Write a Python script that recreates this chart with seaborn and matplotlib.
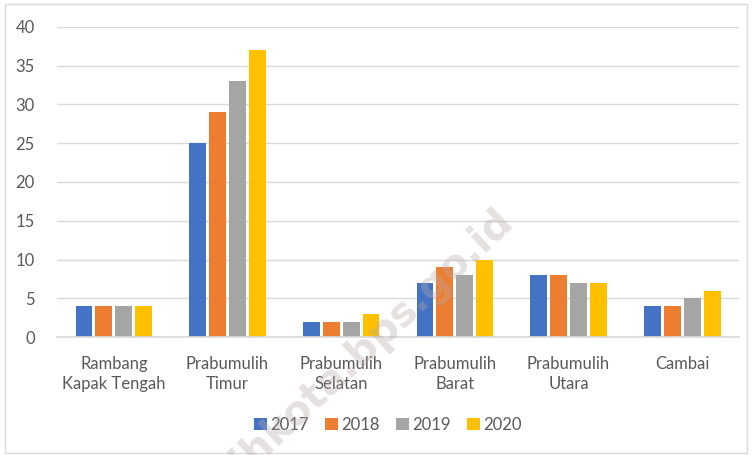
import matplotlib
matplotlib.use("Agg")
import matplotlib.pyplot as plt
import seaborn as sns
import pandas as pd

categories = ["Rambang\nKapak Tengah", "Prabumulih\nTimur", "Prabumulih\nSelatan",
              "Prabumulih\nBarat", "Prabumulih\nUtara", "Cambai"]
years = ["2017", "2018", "2019", "2020"]
v2017 = [4, 25, 2, 7, 8, 4]
v2018 = [4, 29, 2, 9, 8, 4]
v2019 = [4, 33, 2, 8, 7, 5]
v2020 = [4, 37, 3, 10, 7, 6]
colors = ["#4472C4", "#ED7D31", "#A5A5A5", "#FFC000"]

rows = []
for y, vals in zip(years, [v2017, v2018, v2019, v2020]):
    for c, v in zip(categories, vals):
        rows.append({"cat": c, "year": y, "val": v})
df = pd.DataFrame(rows)

sns.set_theme(style="white")
plt.rcParams["font.family"] = ["Lato", "DejaVu Sans"]

fig = plt.figure(figsize=(7.52, 4.55), dpi=100)
ax = fig.add_axes([0.0758, 0.2593, 0.907, 0.6814])
sns.barplot(data=df, x="cat", y="val", hue="year", palette=colors, width=0.7,
            gap=0.15, ax=ax, saturation=1, linewidth=0, legend=True)

ax.set_ylim(0, 40)
ax.set_yticks(range(0, 41, 5))
ax.set_xlim(-0.5, 5.5)
ax.grid(axis="y", color="#D9D9D9", linewidth=1)
ax.set_axisbelow(True)
for s in ["top", "right", "left"]:
    ax.spines[s].set_visible(False)
ax.spines["bottom"].set_color("#D9D9D9")
ax.set_xlabel("")
ax.set_ylabel("")
ax.tick_params(axis="both", length=0, colors="#595959", labelsize=12)
ax.tick_params(axis="x", pad=14)
ax.tick_params(axis="y", pad=16)
for lbl in ax.get_xticklabels():
    lbl.set_linespacing(1.3)

leg = ax.legend(loc="center", ncol=4,
                frameon=False, fontsize=12, handlelength=0.75, handleheight=0.75,
                handletextpad=0.2, columnspacing=1.0, labelcolor="#595959")
leg.set_bbox_to_anchor((388 / 752, 1 - 425 / 455), transform=fig.transFigure)

# figure border
fig.patches.append(plt.Rectangle((0.007, 0.004), 0.986, 0.988, transform=fig.transFigure,
                                 fill=False, edgecolor="#D9D9D9", linewidth=1))

# watermark
fig.text(0.675, 1 - 215 / 455, "prabumulihkota.bps.go.id", rotation=43,
         rotation_mode="anchor", ha="right", va="center", fontsize=29,
         fontweight="bold", color="#B8A8A8", alpha=0.35, family="DejaVu Sans")

fig.savefig("out.png", dpi=100)
